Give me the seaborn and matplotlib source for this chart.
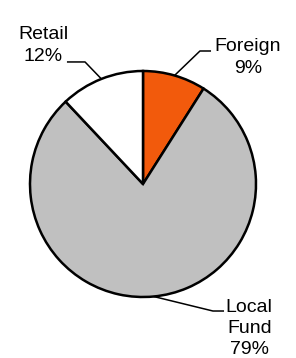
import numpy as np
import seaborn as sns
import matplotlib.pyplot as plt

# data
labels = ['Foreign', 'Local\nFund', 'Retail']
shares = [9, 79, 12]
colors = ['#F25A0C', '#C0C0C0', '#FFFFFF']

sns.set_theme(style='white')
plt.rcParams['font.family'] = ['Liberation Sans', 'DejaVu Sans']

fig = plt.figure(figsize=(2.96, 3.58), dpi=100)
# pie of radius 1 fills this box (226 px across)
ax = fig.add_axes([30 / 296, 61 / 358, 226 / 296, 226 / 358])

wedges, _ = ax.pie(shares, colors=colors, startangle=90, counterclock=False,
                   radius=1, wedgeprops=dict(edgecolor='black', linewidth=1.8))
ax.set_xlim(-1, 1)
ax.set_ylim(-1, 1)
ax.axis('off')

# leader line elbows / ends and label centres (in radius units)
elbows = [(0.504, 1.177), (0.619, -1.124), (-0.513, 1.080)]
ends = [(0.602, 1.177), (0.717, -1.124), (-0.673, 1.080)]
text_pos = [(0.93, 1.12), (0.94, -1.28), (-0.88, 1.226)]

for w, lab, s, el, en, tp in zip(wedges, labels, shares, elbows, ends, text_pos):
    mid = np.deg2rad((w.theta1 + w.theta2) / 2)
    x0, y0 = np.cos(mid), np.sin(mid)
    ax.plot([x0, el[0], en[0]], [y0, el[1], en[1]], color='black', lw=1.1,
            clip_on=False, solid_capstyle='butt')
    ax.text(tp[0], tp[1], f'{lab}\n{s}%', ha='center', va='center',
            multialignment='center', fontsize=14, color='black',
            linespacing=1.32, clip_on=False)

fig.savefig('out.png', dpi=100)
